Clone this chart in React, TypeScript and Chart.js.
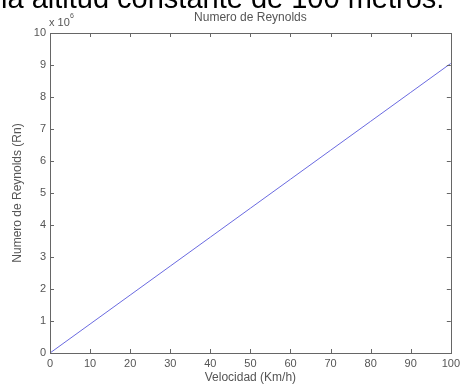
import React, { useEffect, useRef } from "react";
import { Chart, registerables } from "chart.js";

Chart.register(...registerables);

const velocidad = [0, 10, 20, 30, 40, 50, 60, 70, 80, 90, 100];
const reynolds = [0, 905000, 1810000, 2715000, 3620000, 4525000, 5430000, 6335000, 7240000, 8145000, 9050000];
const xTicks = [0, 10, 20, 30, 40, 50, 60, 70, 80, 90, 100];
const yTicks = [0, 1, 2, 3, 4, 5, 6, 7, 8, 9, 10];
const title = "Numero de Reynolds";
const xTitle = "Velocidad (Km/h)";
const yTitle = "Numero de Reynolds (Rn)";
const caption = "la altitud constante de 100 metros.";

const FONT = "Arial, 'Liberation Sans', sans-serif";
const TXT = "#555";

const boxPlugin = {
  id: "matlabBox",
  afterDraw(chart: any) {
    const { ctx, chartArea: a, scales } = chart;
    const xs = scales.x, ys = scales.y;
    ctx.save();
    // cropped caption above the figure
    ctx.fillStyle = "#000";
    ctx.font = `29px ${FONT}`;
    ctx.textAlign = "left";
    ctx.textBaseline = "alphabetic";
    ctx.fillText(caption, 1, 8);

    ctx.strokeStyle = "#666";
    ctx.lineWidth = 1;
    ctx.strokeRect(Math.round(a.left) + 0.5, Math.round(a.top) + 0.5, Math.round(a.right - a.left), Math.round(a.bottom - a.top));
    const tl = 4;
    ctx.beginPath();
    xTicks.forEach((v) => {
      const px = Math.round(xs.getPixelForValue(v)) + 0.5;
      ctx.moveTo(px, a.bottom); ctx.lineTo(px, a.bottom - tl);
      ctx.moveTo(px, a.top); ctx.lineTo(px, a.top + tl);
    });
    yTicks.forEach((v) => {
      const py = Math.round(ys.getPixelForValue(v * 1e6)) + 0.5;
      ctx.moveTo(a.left, py); ctx.lineTo(a.left + tl, py);
      ctx.moveTo(a.right, py); ctx.lineTo(a.right - tl, py);
    });
    ctx.stroke();
    // title
    ctx.fillStyle = TXT;
    ctx.font = `12px ${FONT}`;
    ctx.textAlign = "center";
    ctx.textBaseline = "middle";
    ctx.fillText(title, (a.left + a.right) / 2, 18);
    // exponent
    ctx.textAlign = "left";
    ctx.font = `11px ${FONT}`;
    ctx.fillText("x 10", a.left - 1, 23);
    ctx.font = `7px ${FONT}`;
    ctx.fillText("6", a.left + 20, 16);
    ctx.restore();
  },
};

export default function App() {
  const ref = useRef<HTMLCanvasElement | null>(null);
  useEffect(() => {
    if (!ref.current) return;
    const chart = new Chart(ref.current, {
      type: "line",
      data: {
        datasets: [
          {
            data: velocidad.map((v, i) => ({ x: v, y: reynolds[i] })),
            borderColor: "#6a6ae0",
            borderWidth: 1,
            pointRadius: 0,
            tension: 0,
          },
        ],
      },
      options: {
        animation: false,
        responsive: false,
        layout: { padding: { top: 33, right: 7, left: 0, bottom: 0 } },
        plugins: { legend: { display: false }, tooltip: { enabled: false }, title: { display: false } },
        scales: {
          x: {
            type: "linear",
            min: 0,
            max: 100,
            grid: { display: false, drawTicks: false },
            border: { display: false },
            afterBuildTicks: (s: any) => { s.ticks = xTicks.map((v) => ({ value: v })); },
            afterFit: (s: any) => { s.height = 32; },
            ticks: { color: TXT, font: { size: 11, family: FONT }, padding: 4, maxRotation: 0, autoSkip: false },
            title: { display: true, text: xTitle, color: TXT, font: { size: 12, family: FONT }, padding: { top: 0, bottom: 0 } },
          },
          y: {
            type: "linear",
            min: 0,
            max: 10e6,
            grid: { display: false, drawTicks: false },
            border: { display: false },
            afterBuildTicks: (s: any) => { s.ticks = yTicks.map((v) => ({ value: v * 1e6 })); },
            afterFit: (s: any) => { s.width = 50; },
            ticks: { color: TXT, font: { size: 11, family: FONT }, padding: 4, autoSkip: false, callback: (v: any) => String(Number(v) / 1e6) },
            title: { display: true, text: yTitle, color: TXT, font: { size: 12, family: FONT }, padding: { top: 10, bottom: 0 } },
          },
        },
      },
      plugins: [boxPlugin],
    } as any);
    return () => chart.destroy();
  }, []);
  return (
    <div style={{ position: "absolute", left: 0, top: 0, width: 464, height: 385, overflow: "hidden", background: "#fff" }}>
      <canvas ref={ref} width={464} height={385} style={{ position: "absolute", left: 0, top: 0 }} />
    </div>
  );
}
